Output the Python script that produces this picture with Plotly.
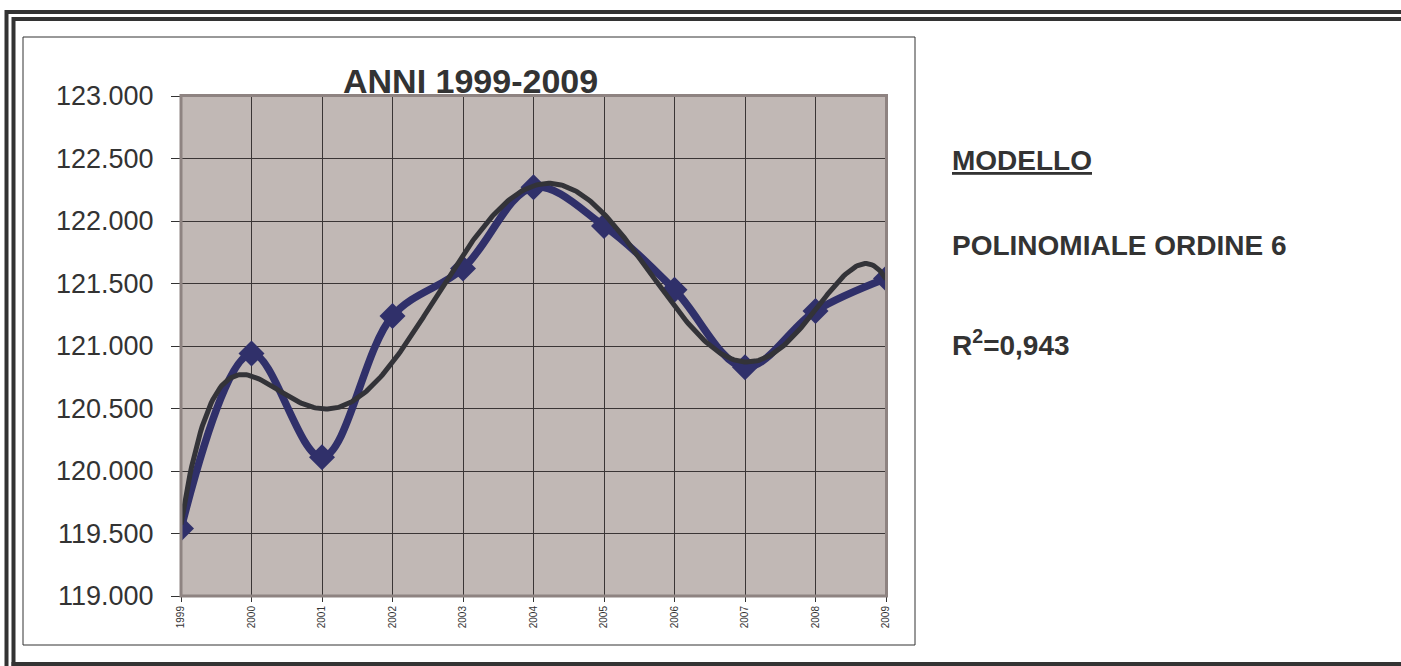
import numpy as np
import plotly.graph_objects as go

# ---- data ----
years = [1999, 2000, 2001, 2002, 2003, 2004, 2005, 2006, 2007, 2008, 2009]
values = [119540, 120940, 120110, 121240, 121620, 122270, 121960, 121450, 120830, 121280, 121540]
y_ticks = [119000, 119500, 120000, 120500, 121000, 121500, 122000, 122500, 123000]
title_text = "ANNI 1999-2009"
side_texts = ["<u>MODELLO</u>", "POLINOMIALE ORDINE 6", "R<sup>2</sup>=0,943"]
poly_order = 6

# ---- polynomial trend (order 6 least squares, like the spreadsheet trendline) ----
xa = np.array(years, dtype=float)
xc = xa - 2004.0
coef = np.polyfit(xc, np.array(values, dtype=float), poly_order)
xt = np.linspace(xc.min(), xc.max(), 400)
yt = np.polyval(coef, xt)

W, H = 1401, 666
L, R, T, B = 181, 886, 96, 596  # plot area in pixels

def px(x):
    return (x - L) / (R - L)

def py(y):
    return (B - y) / (B - T)

fig = go.Figure()
fig.add_trace(go.Scatter(
    x=years, y=values, mode="lines+markers",
    line=dict(color="#30306A", width=7.5, shape="spline", smoothing=1.0),
    marker=dict(symbol="diamond", size=20, color="#30306A"),
    hoverinfo="skip", showlegend=False))
fig.add_trace(go.Scatter(
    x=xt + 2004.0, y=yt, mode="lines",
    line=dict(color="#333338", width=5),
    hoverinfo="skip", showlegend=False))

font_family = "Liberation Sans, Arial, sans-serif"

fig.update_layout(
    width=W, height=H,
    margin=dict(l=L, r=W - R, t=T, b=H - B, pad=0),
    paper_bgcolor="white", plot_bgcolor="#C1B8B5",
    separators=",.",
    showlegend=False,
    font=dict(family=font_family, color="#333333"),
)
fig.update_xaxes(
    range=[1999, 2009], tickvals=years, ticktext=[str(y) for y in years],
    tickangle=-90, tickfont=dict(size=10, color="#333333"),
    showgrid=True, gridcolor="#3A3535", gridwidth=1,
    ticks="outside", ticklen=5, tickcolor="#333333",
    showline=True, linecolor="#333333", linewidth=1, zeroline=False,
)
fig.update_yaxes(
    range=[119000, 123000], tickvals=y_ticks, tickformat=",d",
    tickfont=dict(size=27, color="#333333"),
    showgrid=True, gridcolor="#3A3535", gridwidth=1,
    ticks="outside", ticklen=9, tickcolor="#333333", ticklabelstandoff=12,
    showline=True, linecolor="#333333", linewidth=1, zeroline=False,
)

def seg(x0, y0, x1, y1, color, width, layer="below"):
    return dict(type="line", xref="paper", yref="paper", x0=px(x0), y0=py(y0), x1=px(x1), y1=py(y1),
                line=dict(color=color, width=width), layer=layer)

shapes = []
# plot frame (brownish border)
shapes.append(dict(type="rect", xref="paper", yref="paper", x0=px(181), x1=px(886.5), y0=py(596), y1=py(95.5),
                   line=dict(color="#8E8381", width=3), layer="above"))
# chart box
shapes.append(dict(type="rect", xref="paper", yref="paper", x0=px(23), x1=px(915), y0=py(645), y1=py(37),
                   line=dict(color="#333333", width=1)))
# outer double border (continues past the right and bottom edges)
shapes.append(seg(6.5, 12, 1401, 12, "#333333", 4))
shapes.append(seg(6.5, 10, 6.5, 666, "#333333", 4))
shapes.append(seg(13.5, 19, 1401, 19, "#333333", 4))
shapes.append(seg(13.5, 17, 13.5, 666, "#333333", 4))
shapes.append(seg(11.5, 664, 1401, 664, "#333333", 4))
fig.update_layout(shapes=shapes)

ann = []
ann.append(dict(text="<b>" + title_text + "</b>", xref="paper", yref="paper", x=px(470), y=py(81),
                xanchor="center", yanchor="middle", showarrow=False,
                font=dict(size=34, color="#333333", family=font_family)))
side_y = [160, 245, 343]
for t, yy in zip(side_texts, side_y):
    ann.append(dict(text="<b>" + t + "</b>", xref="paper", yref="paper", x=px(950), y=py(yy),
                    xanchor="left", yanchor="middle", showarrow=False,
                    font=dict(size=28, color="#333333", family=font_family)))
fig.update_layout(annotations=ann)

fig.write_html(
    "out.html",
    config={"displayModeBar": False, "staticPlot": True},
    post_script="document.body.style.margin='0';document.body.style.padding='0';"
                "document.documentElement.style.overflow='hidden';document.body.style.overflow='hidden';",
)
